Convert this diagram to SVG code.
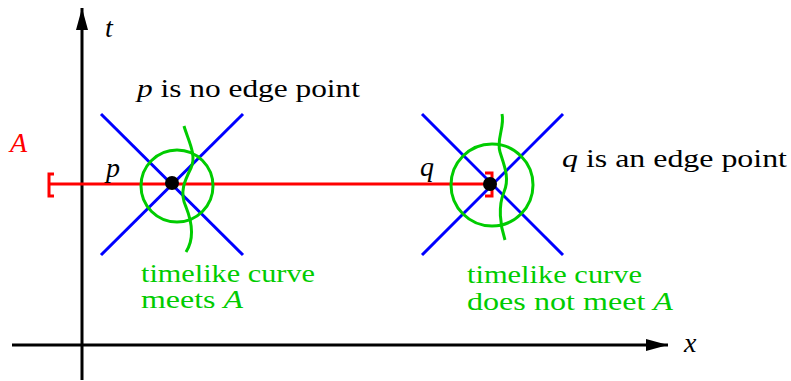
<svg xmlns="http://www.w3.org/2000/svg" width="791" height="381" viewBox="0 0 791 381">
<style>
text{font-family:"Liberation Serif","DejaVu Serif","Times New Roman",serif;font-size:25px}
.it{font-style:italic}
.lbl{font-size:28px}
.g{fill:#00cc00}
.r{fill:#ff0000}
.blue{stroke:#0000ff;stroke-width:3;fill:none}
.green{stroke:#00cc00;stroke-width:3;fill:none}
.red{stroke:#ff0000;stroke-width:3;fill:none}
.axis{stroke:#000;stroke-width:3;fill:none}
</style>
<defs>
<marker id="ah" viewBox="0 0 22 12" refX="22" refY="6" markerWidth="22" markerHeight="12" markerUnits="userSpaceOnUse" orient="auto">
<path d="M0,0 L22,6 L0,12 Z" fill="#000"/>
</marker>
</defs>
<g id="axes">
<line class="axis" x1="82" y1="380" x2="82" y2="8" marker-end="url(#ah)"/>
<line class="axis" x1="12" y1="345" x2="668" y2="345" marker-end="url(#ah)"/>
<text class="it lbl" x="105" y="37">t</text>
<text class="it lbl" x="684" y="352">x</text>
</g>
<g id="setA">
<line class="red" x1="48" y1="184" x2="492" y2="184"/>
<path class="red" d="M54,174 H49 V196 H54"/>
<path class="red" d="M485,173 H492 V196 H485"/>
<text class="it lbl r" x="10" y="152">A</text>
</g>
<g id="p">
<line class="blue" x1="101" y1="114" x2="243" y2="255"/>
<line class="blue" x1="101" y1="255" x2="243" y2="114"/>
<circle class="green" cx="177" cy="186" r="36"/>
<path class="green" d="M184,126 C188,140 197,155 191,168 C185,180 179,192 186,207 C192,222 195,238 186,252"/>
<circle cx="172" cy="183" r="7" fill="#000"/>
<text class="it lbl" x="106" y="177">p</text>
<text x="137" y="97" textLength="223" lengthAdjust="spacingAndGlyphs"><tspan class="it">p</tspan> is no edge point</text>
<text class="g" x="141" y="282" textLength="174" lengthAdjust="spacingAndGlyphs">timelike curve</text>
<text class="g" x="141" y="308" textLength="102" lengthAdjust="spacingAndGlyphs">meets <tspan class="it">A</tspan></text>
</g>
<g id="q">
<line class="blue" x1="422" y1="114" x2="563" y2="255"/>
<line class="blue" x1="422" y1="255" x2="563" y2="114"/>
<circle class="green" cx="492" cy="185" r="41"/>
<path class="green" d="M502,114 C505,126 496,140 500,152 C504,165 510,178 504,192 C498,206 500,225 505,240"/>
<circle cx="490" cy="184" r="7" fill="#000"/>
<text class="it lbl" x="420" y="176">q</text>
<text x="562" y="167" textLength="225" lengthAdjust="spacingAndGlyphs"><tspan class="it">q</tspan> is an edge point</text>
<text class="g" x="467" y="283" textLength="175" lengthAdjust="spacingAndGlyphs">timelike curve</text>
<text class="g" x="467" y="310" textLength="206" lengthAdjust="spacingAndGlyphs">does not meet <tspan class="it">A</tspan></text>
</g>
</svg>
